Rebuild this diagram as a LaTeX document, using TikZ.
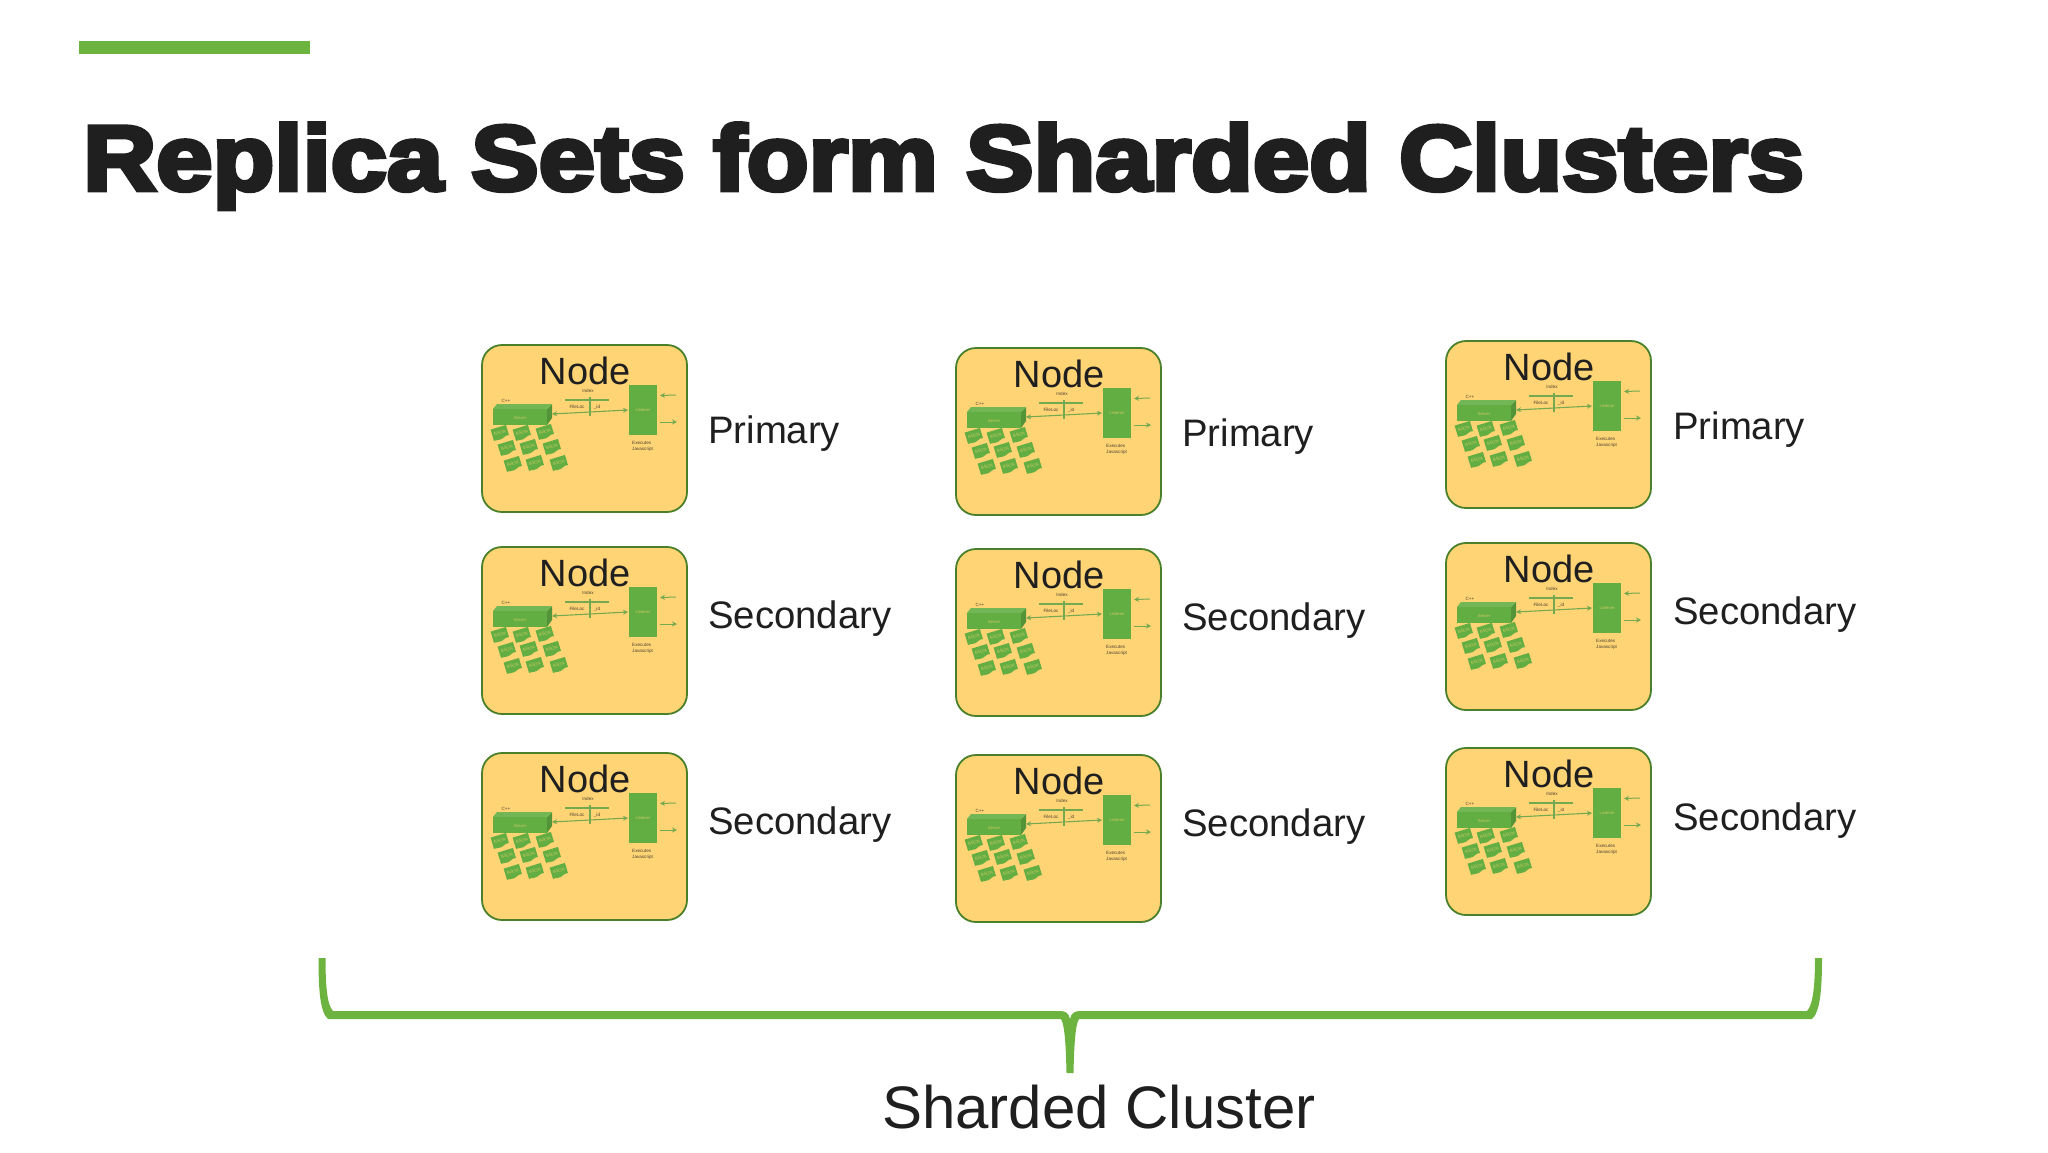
\documentclass[tikz,border=0pt]{standalone}
\usepackage{fontspec}
\setmainfont{Liberation Sans}
\newfontfamily\heavyfont[FakeBold=5,FakeStretch=1.1]{Liberation Sans Bold}
\usetikzlibrary{arrows.meta}
\definecolor{brandgreen}{HTML}{6DB33F}
\definecolor{inkdark}{HTML}{1F1F1F}
\definecolor{boxfill}{HTML}{FFD475}
\definecolor{boxedge}{HTML}{4A8029}
\definecolor{tilegreen}{HTML}{62AE42}
\definecolor{lineg}{HTML}{74A94F}
\tikzset{
  x=1pt,y=-1pt,
  nodebox/.style={draw=boxedge,line width=1.8pt,fill=boxfill,rounded corners=20pt},
  nodetitle/.style={font=\fontsize{38}{38}\selectfont,text=inkdark,anchor=base,inner sep=0pt},
  rolelabel/.style={font=\fontsize{38.3}{38.3}\selectfont,text=inkdark,anchor=base west,inner sep=0pt},
  tiny/.style={font=\fontsize{4.6}{5}\selectfont,text=inkdark!80!boxfill,inner sep=0pt},
  tinyw/.style={font=\fontsize{4.2}{5}\selectfont,text=boxfill!70!tilegreen,inner sep=0pt},
  thin line/.style={draw=lineg,line width=1.1pt},
  arrowline/.style={draw=lineg,line width=1pt,-{Stealth[length=5pt,width=5pt]}},
  dblarrow/.style={draw=lineg,line width=1.1pt,{Stealth[length=5pt,width=5pt]}-{Stealth[length=5pt,width=5pt]}},
}
\newcommand{\bsontile}[2]{%
  \begin{scope}[shift={(#1,#2)},rotate=17]
    \fill[tilegreen] (-8,-6) -- (8,-6) -- (8,4.5) .. controls (4,3) and (1,7.5) .. (-3,6.2) .. controls (-5,5.8) and (-7,5.8) .. (-8,5.8) -- cycle;
    \node[tinyw,rotate=17] at (0,-0.5) {BSON};
  \end{scope}}
\newcommand{\mynode}[2]{%
  \begin{scope}[shift={(#1,#2)}]
    \path[nodebox] (0,0) rectangle (205,167);
    \node[nodetitle] (t) at (103,39.5) {Node};
    % listener
    \fill[tilegreen] (147,40) rectangle (175,90);
    \node[tinyw] (l) at (161,65) {Listener};
    \coordinate (ain) at (194,50); \coordinate (aint) at (178,50.5);
    \coordinate (aout) at (178,77); \coordinate (aoutt) at (195,77);
    \draw[arrowline] (ain) -- (aint);
    \draw[arrowline] (aout) -- (aoutt);
    \node[tiny,anchor=west] (e1) at (150,98) {Executes};
    \node[tiny,anchor=west] (e2) at (150,104) {Javascript};
    % index
    \node[tiny] (ix) at (106,46) {Index};
    \draw[thin line] (83,55) -- (127,55);
    \draw[thin line] (108,52) -- (108,71);
    \node[tiny] (fl) at (95,62) {FileLoc};
    \node[tiny] (id) at (115,62) {\_id};
    % server
    \node[tiny] (cpp) at (24,56) {C++};
    \fill[tilegreen!85!black] (65,64) -- (70,59) -- (70,73) -- (65,80) -- cycle;
    \fill[tilegreen!90!white] (11,64) -- (15,59) -- (70,59) -- (65,64) -- cycle;
    \fill[tilegreen] (11,64) rectangle (65,80);
    \node[tinyw] (sv) at (38,73) {Server};
    \coordinate (sr) at (70,69); \coordinate (ll) at (146,65);
    \draw[dblarrow] (sr) -- (ll);
    \bsontile{18}{88}\bsontile{40}{88}\bsontile{63}{87}
    \bsontile{25}{103}\bsontile{47}{102}\bsontile{70}{102}
    \bsontile{31}{119}\bsontile{53}{118}\bsontile{77}{118}
  \end{scope}}
\begin{document}
\begin{tikzpicture}
\useasboundingbox (0,0) rectangle (2048,1152);
\fill[white] (0,0) rectangle (2048,1152);
\fill[brandgreen] (79,41) rectangle (310,54);
\node[font=\fontsize{92}{92}\heavyfont,text=inkdark,anchor=base west,inner sep=0pt] (title) at (83,190) {Replica Sets form Sharded Clusters};
\mynode{482}{345}\mynode{482}{547}\mynode{482}{753}
\mynode{956}{348}\mynode{956}{549}\mynode{956}{755}
\mynode{1446}{341}\mynode{1446}{543}\mynode{1446}{748}
\node[rolelabel] (a1) at (708,443) {Primary};
\node[rolelabel] (a2) at (708,628) {Secondary};
\node[rolelabel] (a3) at (708,834) {Secondary};
\node[rolelabel] (b1) at (1182,446) {Primary};
\node[rolelabel] (b2) at (1182,630) {Secondary};
\node[rolelabel] (b3) at (1182,836) {Secondary};
\node[rolelabel] (c1) at (1673,439) {Primary};
\node[rolelabel] (c2) at (1673,624) {Secondary};
\node[rolelabel] (c3) at (1673,830) {Secondary};
\fill[brandgreen] (318.5,958) -- (325.5,958) .. controls (325.5,985) and (327,1005) .. (333,1011)
  -- (1060,1011) .. controls (1065,1011) and (1069,1013) .. (1070,1019)
  .. controls (1071,1013) and (1075,1011) .. (1080,1011) -- (1807,1011)
  .. controls (1813,1005) and (1815,985) .. (1815,958) -- (1822,958)
  .. controls (1822,990) and (1820,1012) .. (1812,1019) -- (1079,1019)
  .. controls (1075,1025) and (1074,1050) .. (1073.5,1073) -- (1066.5,1073)
  .. controls (1066,1050) and (1065,1025) .. (1061,1019) -- (328,1019)
  .. controls (320,1012) and (318.5,990) .. (318.5,958) -- cycle;
\node[font=\fontsize{60}{60}\selectfont,text=inkdark,anchor=base,inner sep=0pt] (sc) at (1099,1128) {Sharded Cluster};
\end{tikzpicture}
\end{document}
